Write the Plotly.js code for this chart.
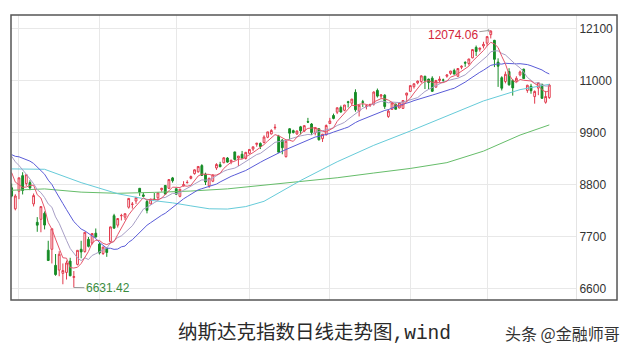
<!DOCTYPE html>
<html>
<head>
<meta charset="utf-8">
<script src="https://cdn.plot.ly/plotly-3.0.1.min.js"></script>
<style>html,body{margin:0;padding:0;background:#fff;}#chart{width:631px;height:351px;}</style>
</head>
<body>
<div id="chart"></div>
<script>
const dates = [
'2020-02-27','2020-02-28',
'2020-03-02','2020-03-03','2020-03-04','2020-03-05','2020-03-06','2020-03-09','2020-03-10','2020-03-11','2020-03-12','2020-03-13','2020-03-16','2020-03-17','2020-03-18','2020-03-19','2020-03-20','2020-03-23','2020-03-24','2020-03-25','2020-03-26','2020-03-27','2020-03-30','2020-03-31',
'2020-04-01','2020-04-02','2020-04-03','2020-04-06','2020-04-07','2020-04-08','2020-04-09','2020-04-13','2020-04-14','2020-04-15','2020-04-16','2020-04-17','2020-04-20','2020-04-21','2020-04-22','2020-04-23','2020-04-24','2020-04-27','2020-04-28','2020-04-29','2020-04-30',
'2020-05-01','2020-05-04','2020-05-05','2020-05-06','2020-05-07','2020-05-08','2020-05-11','2020-05-12','2020-05-13','2020-05-14','2020-05-15','2020-05-18','2020-05-19','2020-05-20','2020-05-21','2020-05-22','2020-05-26','2020-05-27','2020-05-28','2020-05-29',
'2020-06-01','2020-06-02','2020-06-03','2020-06-04','2020-06-05','2020-06-08','2020-06-09','2020-06-10','2020-06-11','2020-06-12','2020-06-15','2020-06-16','2020-06-17','2020-06-18','2020-06-19','2020-06-22','2020-06-23','2020-06-24','2020-06-25','2020-06-26','2020-06-29','2020-06-30',
'2020-07-01','2020-07-02','2020-07-06','2020-07-07','2020-07-08','2020-07-09','2020-07-10','2020-07-13','2020-07-14','2020-07-15','2020-07-16','2020-07-17','2020-07-20','2020-07-21','2020-07-22','2020-07-23','2020-07-24','2020-07-27','2020-07-28','2020-07-29','2020-07-30','2020-07-31',
'2020-08-03','2020-08-04','2020-08-05','2020-08-06','2020-08-07','2020-08-10','2020-08-11','2020-08-12','2020-08-13','2020-08-14','2020-08-17','2020-08-18','2020-08-19','2020-08-20','2020-08-21','2020-08-24','2020-08-25','2020-08-26','2020-08-27','2020-08-28','2020-08-31',
'2020-09-01','2020-09-02','2020-09-03','2020-09-04','2020-09-08','2020-09-09','2020-09-10','2020-09-11','2020-09-14','2020-09-15','2020-09-16','2020-09-17','2020-09-18','2020-09-21','2020-09-22','2020-09-23','2020-09-24','2020-09-25'
];

const open = [
8740,8296,
8667,8998,8830,8850,8400,8010,8074,8200,7420,7440,7100,7000,6930,6950,7190,6845,7120,7440,7390,7650,7570,7780,
7550,7350,7460,7600,8150,7950,8150,8120,8330,8390,8460,8730,8590,8450,8400,8500,8530,8700,8790,8730,8950,
8720,8560,8780,8850,8940,9040,9080,9210,9030,8780,8880,9160,9230,9270,9370,9290,9500,9370,9450,9360,
9470,9560,9660,9680,9700,9810,9880,10010,9830,9750,9400,9990,9950,9880,10030,9940,10140,10090,9900,9990,9780,9860,
10100,10270,10340,10440,10380,10560,10530,10760,10360,10560,10460,10500,10510,10800,10680,10700,10250,10400,10510,10430,10420,10700,
10780,10880,10960,10990,11100,11040,11060,10870,11010,11020,11100,11160,11220,11100,11290,11390,11370,11490,11710,11670,11740,
11800,11980,11860,11400,11070,10990,11200,11010,11000,11130,11250,10800,10890,10670,10850,10930,10550,10650
];
const high = [
8830,8604,
8952,9070,9018,8900,8620,8120,8344,8240,7620,7875,7340,7400,7140,7200,7260,6980,7418,7620,7800,7700,7780,7880,
7590,7490,7480,7920,8190,8091,8190,8200,8520,8440,8550,8730,8640,8480,8510,8630,8640,8740,8800,8920,8970,
8730,8711,8880,8900,9000,9130,9200,9240,9060,8950,9020,9260,9290,9390,9390,9330,9500,9412,9520,9500,
9560,9610,9690,9700,9850,9925,9980,10087,9860,9770,9750,10000,9970,9950,10050,10060,10220,10110,10020,10000,9880,10080,
10220,10310,10440,10480,10495,10580,10620,10824,10490,10600,10500,10520,10780,10840,10720,10720,10400,10540,10520,10550,10590,10750,
10910,10950,11010,11120,11110,11050,11100,11020,11100,11050,11140,11215,11260,11270,11330,11420,11466,11670,11750,11700,11830,
11950,12074.06,11870,11480,11100,11200,11270,11040,11100,11220,11260,10920,10940,10800,10970,10940,10790,10940
];
const low = [
8540,8264,
8500,8600,8780,8690,8346,7810,7800,7860,7200,7140,6880,6870,6700,6800,6870,6631.42,7100,7250,7370,7480,7540,7690,
7330,7320,7280,7580,7880,7900,8050,8060,8300,8300,8400,8570,8550,8200,8390,8480,8480,8660,8600,8720,8850,
8600,8540,8770,8830,8920,9020,9060,9000,8800,8740,8860,9120,9180,9260,9270,9240,9320,9200,9360,9340,
9460,9520,9610,9560,9680,9790,9870,9970,9490,9450,9380,9760,9890,9860,9870,9920,10110,9860,9850,9740,9710,9850,
10090,10190,10300,10330,10360,10440,10480,10350,10250,10450,10400,10450,10480,10650,10630,10410,10220,10390,10400,10420,10410,10550,
10780,10840,10930,10960,10830,10830,10770,10860,10970,10970,11070,11130,11140,11090,11250,11300,11330,11480,11530,11620,11690,
11740,11900,11294,10875,10800,10950,10900,10690,10980,11100,11050,10750,10730,10520,10700,10630,10520,10620
];
const close = [
8566,8567,
8952,8684,9018,8738,8576,7950,8344,7952,7202,7875,6905,7335,6990,7151,6880,6861,7418,7384,7798,7502,7774,7700,
7361,7487,7373,7913,7887,8091,8153,8192,8516,8394,8533,8650,8561,8263,8495,8494,8634,8730,8607,8915,8890,
8605,8711,8810,8854,8979,9121,9192,9002,8863,8943,9015,9235,9185,9375,9284,9325,9340,9412,9369,9490,
9552,9608,9683,9616,9814,9924,9953,10020,9493,9589,9726,9895,9910,9943,9946,10056,10131,9909,10017,9757,9874,10059,
10154,10208,10433,10344,10492,10548,10617,10391,10488,10550,10473,10503,10767,10680,10706,10461,10363,10536,10402,10543,10587,10745,
10902,10941,10998,11108,11011,10968,10782,11012,11042,11019,11129,11210,11146,11264,11311,11379,11466,11665,11625,11696,11775,
11939,12056,11458,11313,10848,11142,10920,10854,11057,11191,11051,10910,10794,10779,10964,10633,10672,10914
];

const ma5 = [
9062,8860,8806,8750,8757,8792,8794,8593,8525,8312,
8005,7865,7656,7454,7261,7251,7052,7043,7060,7139,
7268,7393,7575,7632,7627,7565,7539,7567,7604,7750,
7883,8047,8168,8269,8358,8457,8531,8480,8500,8493,
8489,8523,8592,8676,8755,8749,8746,8786,8774,8792,
8895,8991,9030,9031,9024,9003,9012,9048,9151,9219,
9281,9302,9347,9346,9387,9433,9486,9540,9590,9655,
9729,9798,9865,9841,9796,9756,9745,9723,9813,9884,
9950,9997,9997,10012,9974,9938,9923,9972,10010,10146,
10240,10326,10405,10487,10478,10507,10519,10504,10481,10556,
10595,10626,10623,10595,10549,10494,10461,10486,10563,10636,
10744,10835,10939,10992,11005,10973,10976,10963,10965,10997,
11082,11109,11154,11212,11262,11313,11417,11489,11566,11645,
11740,11818,11785,11708,11523,11363,11136,11015,10964,11033,
11015,11013,11001,10945,10900,10816,10768,10792
];
const ma10 = [
9406,9291,9213,9108,9028,8927,8827,8700,8638,8535,
8399,8330,8125,7990,7787,7628,7459,7350,7257,7200,
7260,7223,7309,7346,7383,7417,7466,7571,7618,7689,
7724,7793,7868,7937,8054,8170,8289,8324,8385,8426,
8473,8527,8536,8588,8624,8619,8635,8689,8725,8774,
8822,8869,8908,8903,8908,8949,9002,9039,9091,9122,
9142,9157,9198,9249,9303,9357,9394,9444,9468,9521,
9581,9642,9703,9716,9726,9743,9772,9794,9827,9840,
9853,9871,9860,9913,9929,9944,9960,9985,10011,10060,
10089,10125,10189,10249,10312,10374,10423,10455,10484,10517,
10551,10573,10564,10538,10553,10545,10544,10555,10579,10593,
10619,10648,10713,10778,10821,10859,10906,10951,10979,11001,
11028,11043,11059,11089,11130,11198,11263,11322,11389,11454,
11527,11618,11637,11637,11584,11552,11477,11400,11336,11278,
11189,11075,11008,10955,10967,10916,10891,10897
];
const ma20 = [
9442,9406,9396,9366,9344,9305,9255,9177,9113,9028,
8903,8811,8669,8549,8408,8278,8143,8025,7948,7868,
7830,7777,7717,7668,7585,7523,7463,7461,7438,7445,
7492,7508,7589,7642,7719,7794,7878,7948,8002,8058,
8099,8160,8202,8263,8339,8395,8462,8507,8555,8600,
8648,8698,8722,8746,8766,8784,8819,8864,8908,8948,
8982,9013,9053,9076,9106,9153,9198,9242,9280,9322,
9362,9400,9451,9483,9515,9550,9583,9619,9648,9681,
9717,9757,9782,9815,9828,9844,9866,9890,9919,9950,
9971,9998,10025,10081,10121,10159,10192,10220,10248,10289,
10320,10349,10377,10394,10433,10460,10484,10505,10532,10555,
10585,10611,10639,10658,10687,10702,10725,10753,10779,10797,
10824,10846,10886,10934,10976,11029,11085,11137,11184,11228,
11278,11331,11348,11363,11357,11375,11370,11361,11363,11366,
11358,11347,11323,11296,11276,11234,11184,11149
];
const ma60Dates = ['2020-02-27','2020-03-11','2020-03-25','2020-04-08','2020-04-23','2020-04-30','2020-05-07','2020-05-14','2020-05-21','2020-05-29','2020-06-05','2020-06-19','2020-07-06','2020-07-20','2020-08-03','2020-08-17','2020-08-31','2020-09-15','2020-09-25'];
const ma60 = [9140,9132,8850,8615,8467,8422,8358,8297,8291,8343,8455,8895,9291,9639,9942,10255,10578,10817,10930];
const ma120Dates = ['2020-02-27','2020-03-11','2020-03-25','2020-04-08','2020-04-23','2020-05-07','2020-05-21','2020-06-05','2020-06-19','2020-07-06','2020-07-20','2020-08-03','2020-08-17','2020-08-31','2020-09-15','2020-09-25'];
const ma120 = [8688,8717,8649,8624,8644,8672,8718,8794,8873,8953,9053,9150,9273,9516,9856,10071];

const monthStarts = ['2020-03-02','2020-04-01','2020-05-01','2020-06-01','2020-07-01','2020-08-03','2020-09-01'];
const yTicks = [6600,7700,8800,9900,11000,12100];
const captionText = '纳斯达克指数日线走势图,wind';
const watermarkText = '头条 @金融师哥';

const upColor = '#e23a4c';
const downColor = '#168c26';

const maxHigh = Math.max(...high);
const maxIdx = high.indexOf(maxHigh);
const minLow = Math.min(...low);
const minIdx = low.indexOf(minLow);

const lineTrace = (x, y, color) => ({
  type: 'scatter', mode: 'lines', x: x, y: y,
  line: {color: color, width: 1}, hoverinfo: 'skip', showlegend: false
});

const traces = [
  {
    type: 'candlestick', x: dates, open: open, high: high, low: low, close: close,
    increasing: {line: {color: upColor, width: 1}, fillcolor: '#ffffff'},
    decreasing: {line: {color: downColor, width: 1}, fillcolor: downColor},
    whiskerwidth: 0, hoverinfo: 'skip', showlegend: false
  },
  lineTrace(ma120Dates, ma120, '#66bd6a'),
  lineTrace(ma60Dates, ma60, '#66cbd9'),
  lineTrace(dates, ma20, '#5a5cd8'),
  lineTrace(dates, ma10, '#a89fc6'),
  lineTrace(dates, ma5, '#e5566a')
];

const layout = {
  width: 631, height: 351,
  margin: {l: 11, r: 55, t: 15, b: 51, pad: 0},
  paper_bgcolor: '#ffffff', plot_bgcolor: '#ffffff',
  showlegend: false,
  xaxis: {
    type: 'category', range: [-0.18, 154.3],
    tickmode: 'array', tickvals: monthStarts, showticklabels: false, ticks: '',
    showgrid: true, gridcolor: '#e8e8e8', gridwidth: 1,
    zeroline: false, showline: false, rangeslider: {visible: false}, fixedrange: true
  },
  yaxis: {
    side: 'right', range: [6367, 12396],
    tickmode: 'array', tickvals: yTicks, tickformat: 'd', ticks: '',
    showgrid: true, gridcolor: '#e8e8e8', gridwidth: 1,
    zeroline: false, showline: true, linecolor: '#e4e4e4', linewidth: 1,
    tickfont: {family: 'Liberation Sans, Arial, sans-serif', size: 12, color: '#333333'},
    fixedrange: true
  },
  boxgap: 0.3,
  shapes: [{
    type: 'rect', xref: 'paper', yref: 'paper', x0: 0, x1: 1.0726, y0: 0, y1: 1,
    line: {color: '#555555', width: 1.5}, fillcolor: 'rgba(0,0,0,0)', layer: 'above'
  }],
  annotations: [
    {
      x: dates[maxIdx], y: maxHigh, xref: 'x', yref: 'y',
      text: maxHigh.toFixed(2), showarrow: true, arrowhead: 1, arrowsize: 0.6, arrowwidth: 1,
      arrowcolor: '#9a9a9a', ax: -38, ay: 5, standoff: 1,
      font: {family: 'Liberation Sans, Arial, sans-serif', size: 12, color: '#d3253a'}
    },
    {
      x: dates[minIdx], y: minLow, xref: 'x', yref: 'y',
      text: minLow.toFixed(2), showarrow: true, arrowhead: 0, arrowwidth: 1,
      arrowcolor: '#9a9a9a', ax: 34, ay: 0.5,
      font: {family: 'Liberation Sans, Arial, sans-serif', size: 12, color: '#3a8c3e'}
    },
    {
      x: 0.537, y: -0.116, xref: 'paper', yref: 'paper', showarrow: false,
      text: captionText, xanchor: 'center', yanchor: 'middle',
      font: {family: 'Liberation Mono, Noto Sans CJK SC, monospace', size: 19.5, color: '#2a2a2a'}
    },
    {
      x: 0.976, y: -0.116, xref: 'paper', yref: 'paper', showarrow: false,
      text: watermarkText, xanchor: 'center', yanchor: 'middle',
      font: {family: 'Noto Sans CJK SC, sans-serif', size: 16, color: '#333333'}
    }
  ]
};

Plotly.newPlot('chart', traces, layout, {staticPlot: true, displayModeBar: false});
</script>
</body>
</html>
